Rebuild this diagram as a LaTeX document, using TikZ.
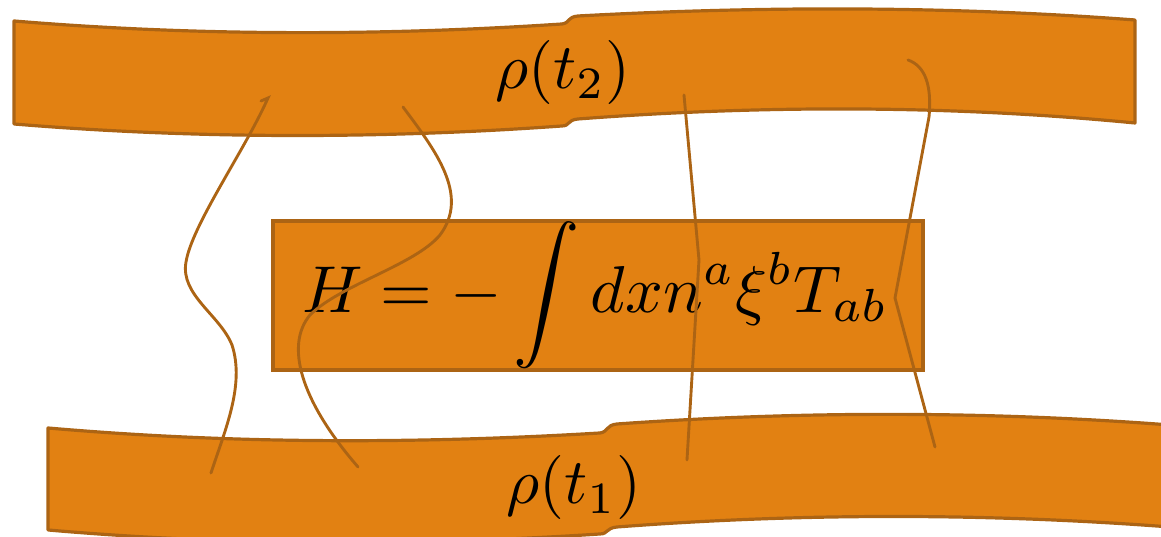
\documentclass[tikz,border=0pt]{standalone}
\definecolor{bandfill}{RGB}{226,129,18}
\definecolor{bandedge}{RGB}{172,100,20}
\tikzset{
  band/.style={fill=bandfill, draw=bandedge, line width=0.5pt, line join=round},
  line/.style={draw=bandedge, line width=0.45pt, line cap=round},
  lbl/.style={font=\normalsize, inner sep=0pt, anchor=base},
  hbox/.style={fill=bandfill, draw=bandedge, line width=0.5pt, minimum width=101.56pt, minimum height=23.28pt, inner sep=0pt, font=\normalsize}
}
\begin{document}
\begin{tikzpicture}[x=0.15625pt,y=-0.15625pt]
\useasboundingbox (0,0) rectangle (1161,537);
\clip (0,0) rectangle (1161,537);
% top band rho(t2)
\path[band] (14,21) .. controls (195,36) and (380,36) .. (562,24)
  .. controls (570,23) and (567,17) .. (578,16)
  .. controls (763,6) and (949,6) .. (1135,20)
  -- (1135,123)
  .. controls (949,105) and (763,105) .. (578,119)
  .. controls (567,120) and (570,126) .. (562,126)
  .. controls (380,139) and (195,139) .. (14,124) -- cycle;
% bottom band rho(t1)
\path[band] (48,428) .. controls (232,444) and (416,444) .. (600,433)
  .. controls (608,432) and (606,425) .. (617,424)
  .. controls (801,411) and (986,411) .. (1170,425)
  -- (1170,527)
  .. controls (986,513) and (801,513) .. (617,527)
  .. controls (606,528) and (608,534) .. (600,534)
  .. controls (416,546) and (232,546) .. (48,530) -- cycle;
\node[lbl] (rho2) at (563,88.5) {$\rho(t_2)$};
\node[lbl] (rho1) at (574,503.5) {$\rho(t_1)$};
\node[hbox] (ham) at (598,295.5) {\scalebox{1.036}{$\displaystyle H=-\int dx n^a\xi^b T_{ab}$}\kern0.94pt};
% world lines
\coordinate (a1) at (211,473);
\coordinate (a2) at (268,98);
\draw[line] (a1) .. controls (225,430) and (245,385) .. (232,345)
  .. controls (220,315) and (180,295) .. (186,262)
  .. controls (192,225) and (245,150) .. (a2) -- (261,101);
\coordinate (b1) at (403,107);
\coordinate (b2) at (358,467);
\draw[line] (b1) .. controls (435,150) and (470,195) .. (440,235)
  .. controls (415,265) and (340,285) .. (310,315)
  .. controls (285,345) and (300,400) .. (b2);
\coordinate (c1) at (684,95);
\coordinate (c2) at (687,460);
\draw[line] (c1) -- (699,260) -- (c2);
\coordinate (d1) at (908,60);
\coordinate (d2) at (935,447);
\draw[line] (d1) .. controls (925,66) and (932,85) .. (929,117) -- (895,298) -- (d2);
\end{tikzpicture}
\end{document}
